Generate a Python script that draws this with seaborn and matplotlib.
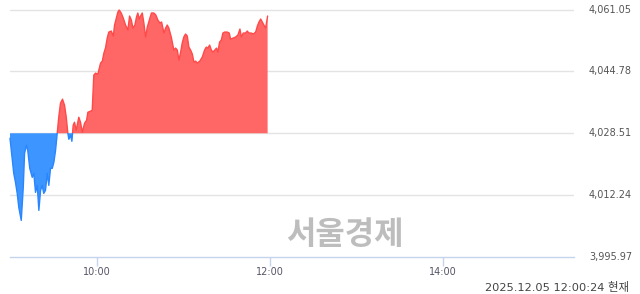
import numpy as np
import pandas as pd
import matplotlib
matplotlib.use("Agg")
import matplotlib.pyplot as plt
import seaborn as sns
from matplotlib.patches import Rectangle

# ---- data ----
base_price = 4028.51
minutes = [0, 2.6, 3.8, 5.0, 6.1, 7.8, 9.2, 10.1, 11.4, 12.3, 13.7, 15.4, 16.5, 17.7, 18.9,
           20.0, 21.2, 22.3, 23.4, 24.6, 25.8, 26.9, 28.1, 29.3, 30.4, 31.6, 32.7, 33.8, 35.0,
           36.4, 37.8, 39.0, 40.1, 40.8, 42.0, 42.9, 43.8, 44.7, 45.9, 47.7, 48.9, 50.1, 51.7,
           53.1, 54.0, 55.8, 57.0, 58.1, 59.3, 60.9, 62.8, 64.0, 65.1, 66.2, 67.4, 68.5, 70.2,
           71.6, 72.5, 73.9, 74.8, 75.7, 77.1, 78.5, 80.1, 81.7, 82.9, 84.1, 85.2, 86.6, 87.7,
           88.6, 89.6, 90.5, 91.7, 92.8, 94.0, 95.2, 97.0, 98.1, 99.7, 101.1, 102.5, 103.9,
           105.1, 106.7, 107.9, 109.0, 110.1, 111.8, 113.6, 114.8, 116.0, 117.1, 118.3, 119.4,
           120.5, 121.7, 122.9, 124.0, 125.2, 126.4, 127.5, 128.7, 129.8, 131.6, 133.3, 134.9,
           136.1, 137.2, 138.4, 139.6, 140.7, 142.0, 143.2, 144.1, 145.3, 146.5, 147.6, 148.8,
           150.6, 152.0, 152.9, 154.8, 156.4, 158.0, 159.4, 160.4, 161.7, 163.3, 164.5, 165.6,
           167.3, 168.7, 170.3, 171.5, 172.6, 173.8, 174.9, 176.0, 177.2, 178.6]
prices = [4027.19, 4017.97, 4015.60, 4012.70, 4009.01, 4005.59, 4014.28, 4023.24, 4025.35,
          4024.03, 4019.29, 4016.92, 4017.97, 4012.96, 4014.81, 4008.22, 4013.49, 4014.81,
          4012.70, 4013.49, 4017.97, 4014.81, 4019.29, 4019.29, 4020.87, 4024.03, 4028.51,
          4032.73, 4036.42, 4037.47, 4035.89, 4032.73, 4028.51, 4026.93, 4027.98, 4026.40,
          4030.62, 4031.41, 4029.30, 4032.73, 4031.41, 4028.77, 4031.15, 4031.94, 4034.04,
          4034.31, 4034.57, 4043.79, 4044.32, 4044.06, 4046.96, 4047.48, 4049.59, 4050.91,
          4053.54, 4055.12, 4055.39, 4054.07, 4056.97, 4059.08, 4060.39, 4060.92, 4060.13,
          4058.81, 4056.97, 4055.65, 4059.34, 4058.29, 4056.18, 4056.97, 4059.08, 4060.13,
          4058.55, 4059.34, 4060.13, 4057.50, 4053.81, 4056.44, 4058.81, 4060.13, 4060.13,
          4059.60, 4058.29, 4057.50, 4057.76, 4054.86, 4056.18, 4056.97, 4056.18, 4053.81,
          4050.38, 4050.91, 4050.38, 4047.75, 4049.85, 4052.23, 4053.81, 4054.60, 4054.07,
          4051.17, 4050.38, 4049.33, 4047.22, 4047.48, 4046.96, 4047.48, 4048.54, 4050.38,
          4051.17, 4050.91, 4051.70, 4050.38, 4049.85, 4050.38, 4050.91, 4049.85, 4052.49,
          4053.02, 4054.86, 4055.12, 4055.12, 4054.86, 4053.28, 4053.54, 4053.81, 4054.33,
          4055.91, 4053.81, 4054.86, 4054.86, 4055.39, 4054.86, 4054.86, 4054.60, 4055.12,
          4056.70, 4057.76, 4058.55, 4057.76, 4056.97, 4056.18, 4059.34]
y_ticks = [3995.97, 4012.24, 4028.51, 4044.78, 4061.05]
x_tick_minutes = [60, 180, 300]
x_tick_labels = ["10:00", "12:00", "14:00"]
timestamp_text = "2025.12.05 12:00:24 현재"
watermark = "서울경제"

df = pd.DataFrame({"t": minutes, "price": prices})

sns.set_style("white")
plt.rcParams["font.family"] = ["DejaVu Sans", "Noto Sans CJK KR"]

fig = plt.figure(figsize=(6.4, 2.94), dpi=100)
ax = fig.add_axes([10 / 640, 37 / 294, 564 / 640, 257 / 294])

RED_FILL = "#FF6666"
RED_LINE = "#FF4A4A"
BLUE_FILL = "#3D95FF"
BLUE_LINE = "#2A86FF"

x = np.array(minutes)
y = np.array(prices)
ax.fill_between(x, y, base_price, where=y >= base_price, interpolate=True,
                color=RED_FILL, linewidth=0, zorder=2)
ax.fill_between(x, y, base_price, where=y <= base_price, interpolate=True,
                color=BLUE_FILL, linewidth=0, zorder=2)

ymin, ymax = 3995.97, 4063.55
sns.lineplot(data=df, x="t", y="price", ax=ax, color=RED_LINE, lw=1.0, zorder=3)
l_red = ax.lines[-1]
sns.lineplot(data=df, x="t", y="price", ax=ax, color=BLUE_LINE, lw=1.0, zorder=3)
l_blue = ax.lines[-1]
r_up = Rectangle((-10, base_price), 500, ymax - base_price + 10, transform=ax.transData)
r_dn = Rectangle((-10, ymin - 10), 500, base_price - ymin + 10, transform=ax.transData)
l_red.set_clip_path(r_up)
l_blue.set_clip_path(r_dn)

ax.set_xlim(0, 391)
ax.set_ylim(ymin, ymax)

for v in y_ticks[1:]:
    ax.axhline(v, color="#E3E3E3", lw=1.0, zorder=1)

ax.set_yticks(y_ticks)
ax.set_yticklabels([f"{v:,.2f}" for v in y_ticks])
ax.yaxis.tick_right()
ax.tick_params(axis="y", length=0, pad=10.8, labelsize=7, labelcolor="#555555")
ax.set_xticks(x_tick_minutes)
ax.set_xticklabels(x_tick_labels)
ax.tick_params(axis="x", length=6.5, width=1, color="#C5D3EC", pad=1, labelsize=7,
               labelcolor="#555566", direction="out", bottom=True)
for lab in ax.get_yticklabels():
    lab.set_verticalalignment("center")

for s in ["top", "right", "left"]:
    ax.spines[s].set_visible(False)
ax.spines["bottom"].set_color("#C5D3EC")
ax.spines["bottom"].set_linewidth(1.0)
ax.set_xlabel("")
ax.set_ylabel("")
ax.grid(False)

fig.text(345 / 640, 1 - 235 / 294, watermark, ha="center", va="center",
         fontsize=23, fontweight="bold", color="#BDBDBD",
         family=["Noto Sans CJK KR", "DejaVu Sans"])
fig.text(629 / 640, 1 - 287 / 294, timestamp_text, ha="right", va="center",
         fontsize=8.2, color="#444444", family=["DejaVu Sans", "Noto Sans CJK KR"])

fig.savefig("out.png", dpi=100)
